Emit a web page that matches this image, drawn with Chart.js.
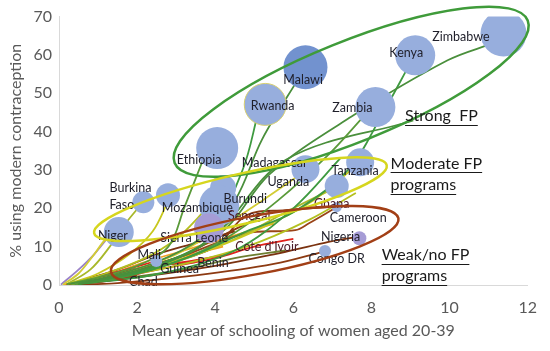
<!DOCTYPE html>
<html>
<head>
<meta charset="utf-8">
<script src="https://cdn.jsdelivr.net/npm/chart.js@4/dist/chart.umd.min.js"></script>
<style>
  html, body { margin: 0; padding: 0; background: #ffffff; }
  #wrap { width: 550px; height: 351px; position: relative; }
</style>
</head>
<body>
<div id="wrap"><canvas id="schoolingChart"></canvas></div>
<script>
// ---- data -----------------------------------------------------------------
// bubbles: country, mean years of schooling, % modern contraception, bubble size
var countries   = ['Zimbabwe', 'Kenya', 'Malawi', 'Rwanda', 'Zambia', 'Ethiopia', 'Madagascar', 'Tanzania',
                   'Uganda', 'Burundi', 'Mozambique', 'Senegal', 'Sierra Leone', 'Burkina Faso', 'Niger',
                   'Mali', 'Ghana', 'Nigeria', 'Congo DR'];
var schooling   = [11.38, 9.12, 6.31, 5.28, 8.1, 4.05, 6.31, 7.71, 7.11, 4.2, 4.1, 3.84, 2.79, 2.16, 1.53, 2.49, 7.11, 7.69, 6.81];
var contracept  = [65.6, 59.9, 56.8, 47.1, 46.4, 35.7, 30.2, 32.0, 25.8, 25.3, 20.8, 14.8, 23.4, 21.6, 13.8, 6.25, 20.3, 12.2, 8.85];
var bubbleSize  = [23, 20, 22, 21, 20, 21, 14, 14, 12, 13, 20, 15, 12, 11, 15, 6, 5, 7, 6];

// trajectories over time (schooling, contraception), one list per country
var strongPaths = [
  [[0.5, 0.3], [1.8, 3], [3.2, 8], [4.3, 15], [5.4, 29], [7.5, 44], [9.95, 58.6], [11.1, 63]],
  [[0.5, 0.3], [2.0, 3], [3.5, 8], [4.8, 14], [6.0, 19], [7.4, 30], [8.3, 45], [9.0, 58]],
  [[0.4, 0.3], [1.6, 2], [3.0, 6], [4.4, 13], [5.6, 22], [6.9, 34], [7.8, 44]],
  [[0.3, 0.3], [1.2, 2], [2.5, 6], [3.6, 12], [4.5, 22], [5.2, 38], [6.2, 55]],
  [[0.4, 0.2], [1.5, 2], [2.8, 6], [3.8, 12], [4.7, 30], [5.1, 45]],
  [[0.2, 0.2], [1.0, 2], [2.0, 5], [2.8, 10], [3.2, 20], [3.7, 33]],
  [[0.6, 0.4], [2.4, 5], [3.9, 12], [5.8, 32.6], [9.07, 42.9]],
  [[0.5, 0.2], [2.6, 3], [4.5, 9], [6.0, 20], [7.2, 33]]
];
var moderatePaths = [
  [[0.4, 0.3], [1.8, 3], [3.5, 8], [5.0, 14], [6.5, 22], [7.6, 31]],
  [[0.3, 0.2], [1.5, 2], [3.0, 6], [4.5, 12], [6.0, 20], [7.0, 25]],
  [[0.4, 0.3], [1.6, 3], [3.0, 8], [4.0, 14], [5.2, 22], [6.2, 29]],
  [[0.3, 0.3], [1.2, 3], [2.2, 7], [3.0, 12], [3.6, 18], [4.1, 24]],
  [[0.2, 0.2], [1.0, 3], [1.8, 8], [2.4, 14], [2.8, 22]],
  [[0.2, 0.2], [0.8, 4], [1.3, 10], [1.7, 16], [2.1, 21]],
  [[0.1, 0.1], [0.5, 3], [0.9, 8], [1.2, 12], [1.5, 14]],
  [[0.3, 0.2], [1.4, 2], [3.0, 5], [4.8, 10], [6.4, 17], [7.6, 24]]
];
var weakPaths = [
  [[0.3, 0.2], [1.3, 2], [2.5, 5], [4.0, 10], [4.8, 18.2], [5.8, 19.5], [6.9, 20.3]],
  [[0.3, 0.2], [1.5, 3], [3.0, 7], [4.8, 13.5], [6.05, 14.3], [6.4, 16.1], [7.06, 20]],
  [[0.3, 0.1], [2.0, 2], [4.0, 5], [5.5, 8], [6.8, 11], [7.6, 12.5]],
  [[0.2, 0.0], [1.5, 0.5], [3.5, 2.5], [5.5, 5.5], [6.8, 8.8]],
  [[0.2, 0.1], [0.8, 1], [1.5, 2], [2.0, 2.5]],
  [[0.3, 0.3], [1.5, 4], [2.5, 8], [3.5, 11], [4.5, 14]],
  [[0.3, 0.2], [1.5, 3], [3.0, 7], [4.0, 12], [5.0, 17]]
];
var redPaths = [
  [[0.3, 0.2], [1.2, 1], [2.5, 4], [4.0, 7], [5.0, 10], [6.0, 12]],
  [[0.2, 0.2], [1.0, 2], [1.7, 4], [2.4, 6]],
  [[0.2, 0.1], [1.3, 3], [2.5, 5], [3.5, 6.5], [4.3, 8]]
];
var orangePaths = [
  [[0.1, 0.0], [1.0, 1.5], [2.0, 4], [3.0, 7], [4.2, 10]],
  [[0.2, 0.1], [1.2, 2.5], [2.2, 6], [3.2, 9], [5.5, 16]]
];
var olivePaths = [
  [[0.2, 0.2], [1.4, 2.5], [2.6, 5], [3.5, 6]],
  [[0.3, 0.2], [1.8, 2], [3.2, 4], [4.5, 7], [5.8, 9]]
];
var purplePaths = [
  [[0.05, 0.1], [0.5, 4], [0.9, 8], [1.3, 13]]
];

// country labels (anchor in chart units)
var labelText = ['Zimbabwe', 'Kenya', 'Malawi', 'Rwanda', 'Zambia', 'Ethiopia', 'Madagascar', 'Tanzania',
                 'Uganda', 'Burkina', 'Faso', 'Mozambique', 'Burundi', 'Senegal', 'Niger', 'Sierra Leone',
                 'Mali', 'Guinea', 'Benin', 'Chad', "Cote d'Ivoir", 'Ghana', 'Cameroon', 'Nigeria', 'Congo DR'];
var labelX = [10.29, 8.89, 6.25, 5.47, 7.51, 3.59, 5.52, 7.58, 5.87, 1.83, 1.61, 3.54, 4.77, 4.87, 1.38, 3.46,
              2.31, 3.09, 3.94, 2.16, 5.32, 6.98, 7.66, 7.21, 7.11];
var labelY = [64.8, 60.6, 53.6, 46.8, 46.3, 32.5, 31.7, 29.7, 26.8, 25.2, 20.8, 20.0, 22.4, 18.0, 12.75, 12.2,
              7.8, 4.2, 5.7, 0.8, 9.9, 21.1, 17.4, 12.5, 6.8];

// group ellipses: ends of the long axis in chart units
var groupNames = ['Strong', 'Moderate', 'Weak'];
var groupFrom  = [[2.96, 31.8], [0.9, 13.5], [1.33, 3.4]];
var groupTo    = [[12.0, 69.0], [8.39, 31.25], [8.69, 17.4]];

// group captions
var captionText = ['Strong  FP', 'Moderate FP', 'programs', 'Weak/no FP', 'programs'];
var captionX = [8.86, 8.49, 8.49, 8.26, 8.26];
var captionY = [44.2, 31.7, 26.0, 7.8, 2.3];

var xTicks = [0, 2, 4, 6, 8, 10, 12];
var yTicks = [0, 10, 20, 30, 40, 50, 60, 70];

// ---- styles ----------------------------------------------------------------
var fontFamily = 'Lato, "Open Sans", sans-serif';
var axisGray = '#595959';
var groupColors = ['#3f9b3a', '#d6d61e', '#a23f16'];
var groupHalfWidth = [50, 25, 29];

function toPts(path) {
  return path.map(function (p) { return { x: p[0], y: p[1] }; });
}

var datasets = [];
function addPaths(paths, colors, width) {
  paths.forEach(function (path, i) {
    datasets.push({
      type: 'line',
      data: toPts(path),
      borderColor: colors[i % colors.length],
      borderWidth: width,
      pointRadius: 0,
      tension: 0.35,
      fill: false,
      order: 2
    });
  });
}
addPaths(strongPaths, ['#4a8f3c', '#3e9a40', '#5a9a3a'], 1.8);
addPaths(moderatePaths, ['#c8c81e', '#a8b82a', '#d2cc34', '#b4c020'], 1.8);
addPaths(weakPaths, ['#8c3a12', '#9a4418', '#7a3210'], 1.8);
addPaths(redPaths, ['#e0221c'], 1.8);
addPaths(orangePaths, ['#f0a020'], 1.8);
addPaths(olivePaths, ['#7c8a2a', '#6e7e30'], 1.8);
addPaths(purplePaths, ['#9a82c8'], 1.8);

var bubbleColors = countries.map(function (c) {
  if (c === 'Malawi') return '#7292cf';
  if (c === 'Senegal' || c === 'Nigeria') return '#a69cd6';
  return '#97aedd';
});
var bubbleBorders = countries.map(function (c) {
  return c === 'Rwanda' ? '#d8d070' : 'rgba(0,0,0,0)';
});

datasets.push({
  type: 'bubble',
  label: 'Countries',
  data: countries.map(function (c, i) { return { x: schooling[i], y: contracept[i], r: bubbleSize[i] }; }),
  backgroundColor: bubbleColors,
  borderColor: bubbleBorders,
  borderWidth: 1,
  order: 1
});

// ---- plugin: group ellipses, country labels and captions -------------------
var overlayPlugin = {
  id: 'overlay',
  afterDatasetsDraw: function (chart) {
    var ctx = chart.ctx, xs = chart.scales.x, ys = chart.scales.y;
    ctx.save();

    // country labels
    ctx.font = '12.5px ' + fontFamily;
    ctx.textAlign = 'center';
    ctx.textBaseline = 'middle';
    labelText.forEach(function (t, i) {
      var dark = (t === 'Ghana' || t === 'Senegal' || t === "Cote d'Ivoir") ? '#4a1a26' : '#1f1f2a';
      ctx.fillStyle = dark;
      ctx.fillText(t, xs.getPixelForValue(labelX[i]), ys.getPixelForValue(labelY[i]));
    });

    // ellipses
    groupNames.forEach(function (g, i) {
      var x1 = xs.getPixelForValue(groupFrom[i][0]), y1 = ys.getPixelForValue(groupFrom[i][1]);
      var x2 = xs.getPixelForValue(groupTo[i][0]), y2 = ys.getPixelForValue(groupTo[i][1]);
      var cx = (x1 + x2) / 2, cy = (y1 + y2) / 2;
      var a = Math.sqrt((x2 - x1) * (x2 - x1) + (y2 - y1) * (y2 - y1)) / 2;
      var ang = Math.atan2(y2 - y1, x2 - x1);
      ctx.beginPath();
      ctx.ellipse(cx, cy, a, groupHalfWidth[i], ang, 0, Math.PI * 2);
      ctx.strokeStyle = groupColors[i];
      ctx.lineWidth = 2.5;
      ctx.stroke();
    });

    // captions, underlined
    ctx.font = '16px ' + fontFamily;
    ctx.textAlign = 'left';
    ctx.textBaseline = 'middle';
    ctx.fillStyle = '#1a1a1a';
    ctx.strokeStyle = '#1a1a1a';
    ctx.lineWidth = 1;
    captionText.forEach(function (t, i) {
      var px = xs.getPixelForValue(captionX[i]), py = ys.getPixelForValue(captionY[i]);
      ctx.fillText(t, px, py);
      var w = ctx.measureText(t).width;
      ctx.beginPath();
      ctx.moveTo(px, Math.round(py + 9) + 0.5);
      ctx.lineTo(px + w, Math.round(py + 9) + 0.5);
      ctx.stroke();
    });
    ctx.restore();
  }
};

new Chart(document.getElementById('schoolingChart').getContext('2d'), {
  type: 'scatter',
  data: { datasets: datasets },
  plugins: [overlayPlugin],
  options: {
    responsive: true,
    maintainAspectRatio: false,
    animation: false,
    layout: { autoPadding: false, padding: { top: 16, right: 13, left: 0, bottom: 0 } },
    plugins: {
      legend: { display: false },
      tooltip: { enabled: false }
    },
    scales: {
      x: {
        type: 'linear',
        min: 0,
        max: 12,
        afterBuildTicks: function (axis) { axis.ticks = xTicks.map(function (v) { return { value: v }; }); },
        afterFit: function (axis) { axis.height = 66; },
        grid: { display: false, drawTicks: false },
        border: { display: true, color: '#d9d9d9', width: 1 },
        ticks: { color: axisGray, font: { family: fontFamily, size: 16 }, padding: 13 },
        title: {
          display: true,
          text: 'Mean year of schooling of women aged 20-39',
          color: axisGray,
          font: { family: fontFamily, size: 16 },
          padding: { top: 0, bottom: 11 }
        }
      },
      y: {
        type: 'linear',
        min: 0,
        max: 70,
        afterBuildTicks: function (axis) { axis.ticks = yTicks.map(function (v) { return { value: v }; }); },
        afterFit: function (axis) { axis.width = 59; },
        grid: { display: false, drawTicks: false },
        border: { display: true, color: '#d9d9d9', width: 1 },
        ticks: { color: axisGray, font: { family: fontFamily, size: 16 }, padding: 7 },
        title: {
          display: true,
          text: '% using modern contraception',
          color: axisGray,
          font: { family: fontFamily, size: 16 },
          padding: { top: 6, bottom: 0 }
        }
      }
    }
  }
});
</script>
</body>
</html>
